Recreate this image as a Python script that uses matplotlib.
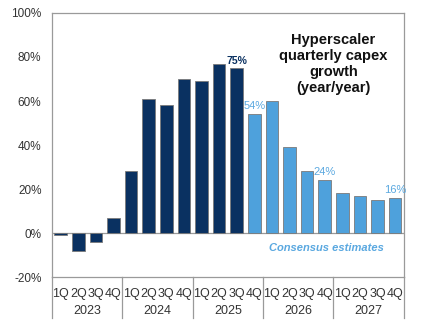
import numpy as np
import matplotlib
matplotlib.use("Agg")
import matplotlib.pyplot as plt
import matplotlib.transforms as mtransforms

plt.rcParams['font.family'] = ['Liberation Sans', 'DejaVu Sans']

quarters = ["1Q", "2Q", "3Q", "4Q"] * 5
years = ["2023", "2024", "2025", "2026", "2027"]
growth = [-1, -8, -4, 7, 28, 61, 58, 70, 69, 77, 75, 54, 60, 39, 28, 24, 18, 17, 15, 16]
n_actual = 11  # bars up to 3Q25 are actuals
labels = {10: "75%", 11: "54%", 15: "24%", 19: "16%"}

dark = "#0a3161"
light = "#4ea1dc"
grey = "#9a9a9a"

fig = plt.figure(figsize=(4.22, 3.33), dpi=100)
ax = fig.add_axes([0.123, 0.168, 0.834, 0.793])

x = np.arange(len(growth))
colors = [dark if i < n_actual else light for i in x]
ax.bar(x, growth, width=0.72, color=colors, edgecolor="#7a7a7a", linewidth=0.6, zorder=3)
ax.axhline(0, color=grey, lw=0.9, zorder=2)

ax.set_xlim(-0.5, len(growth) - 0.5)
ax.set_ylim(-20, 100)
ax.set_yticks(range(-20, 101, 20))
ax.set_yticklabels([f"{v}%" for v in range(-20, 101, 20)], fontsize=8.5, color="#333333")
ax.tick_params(axis="y", length=0, pad=7.5)

ax.set_xticks(x)
ax.set_xticklabels(quarters, fontsize=9, color="#333333")
ax.tick_params(axis="x", length=0, pad=8)

for s in ax.spines.values():
    s.set_color(grey)
    s.set_linewidth(0.9)

trans = ax.get_xaxis_transform()
for k in range(len(years) + 1):
    ax.plot([k * 4 - 0.5] * 2, [0, -0.155], transform=trans, color=grey, lw=0.9, clip_on=False)
for k, yr in enumerate(years):
    ax.text(k * 4 + 1.5, -0.13, yr, transform=trans, ha="center", va="center",
            fontsize=9, color="#333333")

for i, t in labels.items():
    if i < n_actual:
        ax.text(i, growth[i] + 1, t, ha="center", va="bottom", fontsize=7.5,
                fontweight="bold", color=dark, zorder=4)
    else:
        ax.text(i, growth[i] + 1.5, t, ha="center", va="bottom", fontsize=8,
                color="#5aa8e0", zorder=4)

ax.text(0.80, 0.925, "Hyperscaler\nquarterly capex\ngrowth\n(year/year)", transform=ax.transAxes,
        ha="center", va="top", fontsize=10.5, fontweight="bold", color="#111111", linespacing=1.2)
ax.text(0.78, -7, "Consensus estimates", ha="center", va="center", fontsize=8,
        fontweight="bold", fontstyle="italic", color="#5aa8e0",
        transform=mtransforms.blended_transform_factory(ax.transAxes, ax.transData))

fig.savefig("out.png", dpi=100)
